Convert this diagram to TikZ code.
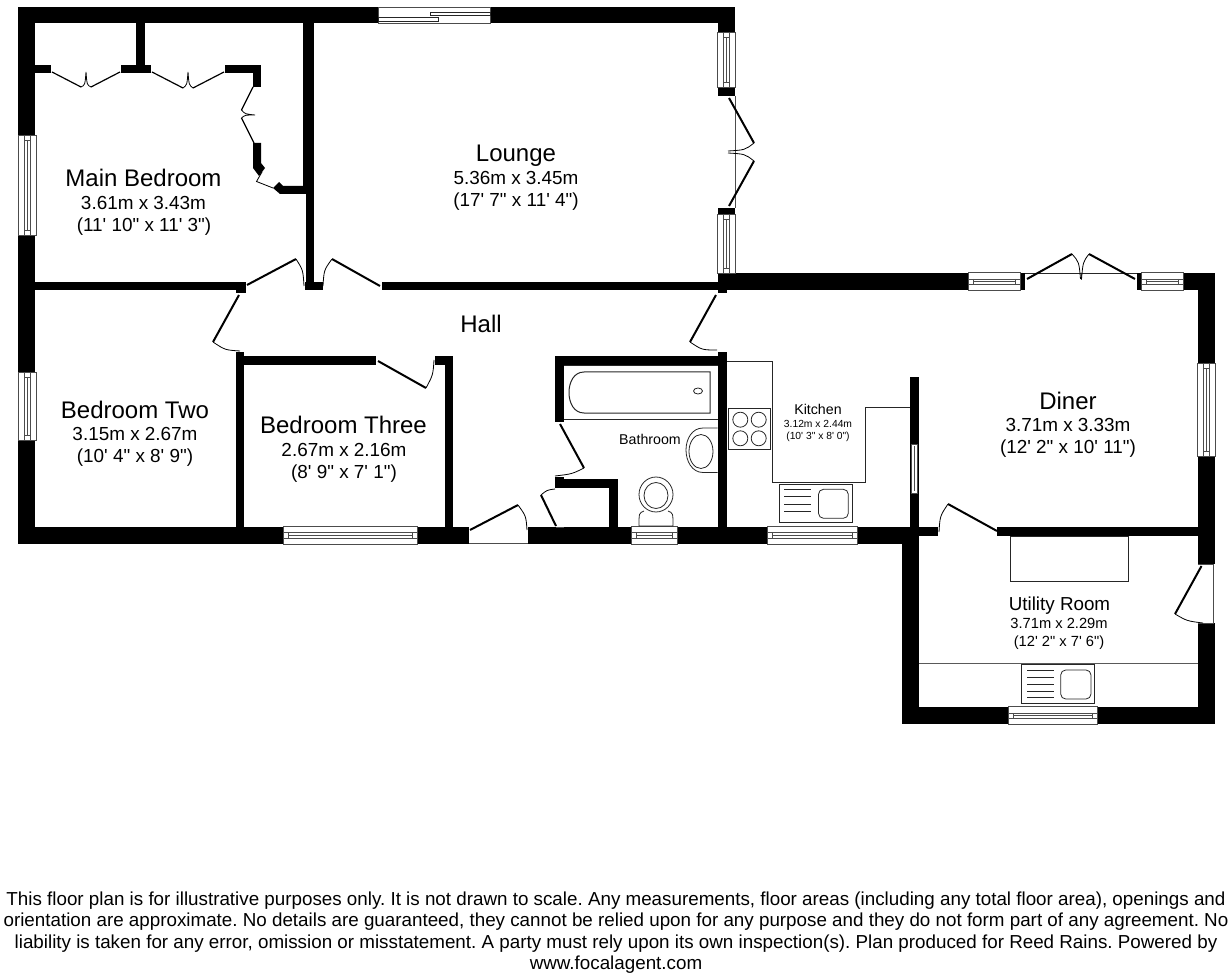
\documentclass[tikz,border=0pt]{standalone}
\usepackage{fontspec}
\newfontfamily\planfont{Liberation Sans}
\frenchspacing
\tikzset{
  wall/.style={fill=black,draw=none},
  winbox/.style={fill=white,draw=black!70,line width=0.8pt},
  winline/.style={draw=black!70,line width=0.8pt},
  leaf/.style={draw=black,line width=2pt},
  swing/.style={draw=black,line width=0.8pt},
  fitting/.style={draw=black!85,line width=1pt},
  bigname/.style={font=\planfont\fontsize{24}{24}\selectfont,anchor=base,inner sep=0pt},
  midname/.style={font=\planfont\fontsize{18.8}{19}\selectfont,anchor=base,inner sep=0pt},
  dimtext/.style={font=\planfont\fontsize{18.9}{19}\selectfont,anchor=base,inner sep=0pt},
  smallname/.style={font=\planfont\fontsize{14.2}{14}\selectfont,anchor=base,inner sep=0pt},
  midtext/.style={font=\planfont\fontsize{14.7}{15}\selectfont,anchor=base,inner sep=0pt},
  tinytext/.style={font=\planfont\fontsize{10.3}{10}\selectfont,anchor=base,inner sep=0pt},
  foot/.style={font=\planfont\fontsize{18.8}{19}\selectfont,anchor=base,inner sep=0pt},
}
\newcommand{\hwin}[3]{% x1 x2 ytop
  \draw[winbox] (#1,#3) rectangle (#2,#3+18);
  \draw[winline] (#1,#3+6.5) -- (#2,#3+6.5) (#1,#3+12) -- (#2,#3+12)
     (#1+5,#3+9) -- (#2-5,#3+9) (#1+5,#3+6.5) -- (#1+5,#3+12) (#2-5,#3+6.5) -- (#2-5,#3+12);}
\newcommand{\vwin}[3]{% xleft y1 y2
  \draw[winbox] (#1,#2) rectangle (#1+18,#3);
  \draw[winline] (#1+6,#2) -- (#1+6,#3) (#1+12,#2) -- (#1+12,#3)
     (#1+9,#2+5) -- (#1+9,#3-5) (#1+6,#2+5) -- (#1+12,#2+5) (#1+6,#3-5) -- (#1+12,#3-5);}
\begin{document}
\begin{tikzpicture}[x=1pt,y=-1pt]
\useasboundingbox (0,0) rectangle (1232,976);
% --- outer walls
\fill[wall] (18,7) rectangle (735,23);
\fill[wall] (18,7) rectangle (35,544);
\fill[wall] (18,527) rectangle (469,544);
\fill[wall] (528,527) rectangle (903,544);
\fill[wall] (718,7) rectangle (735,32);
\fill[wall] (718,87) rectangle (735,96);
\fill[wall] (718,208) rectangle (735,214);
\fill[wall] (718,273) rectangle (1025,290);
\fill[wall] (1137,273) rectangle (1214.5,290);
\fill[wall] (1198,273) rectangle (1214.5,564);
\fill[wall] (1198,623) rectangle (1214.5,724);
\fill[wall] (902,707) rectangle (1214.5,724);
\fill[wall] (902,527) rectangle (919,724);
% --- inner walls
\fill[wall] (303,23) rectangle (314,187);
\fill[wall] (306,186) rectangle (314,290);
\fill[wall] (305,282) rectangle (323,290);
\fill[wall] (35,282) rectangle (246,290);
\fill[wall] (236,282) rectangle (246,293);
\fill[wall] (382,282) rectangle (718,290);
\fill[wall] (718,282) rectangle (727,293);
\fill[wall] (136,23) rectangle (145,65);
\fill[wall] (35,65) rectangle (51,73);
\fill[wall] (121,65) rectangle (151,73);
\fill[wall] (225,65) rectangle (261,73);
\fill[wall] (253,65) rectangle (261,87);
\fill[wall] (253,143) -- (261,143) -- (261,163) -- (265,168) -- (259,176) -- (253,168) -- cycle;
\fill[wall] (273,188) -- (279,182) -- (283,186) -- (306,186) -- (306,194) -- (280,194) -- cycle;
\fill[wall] (236,352) rectangle (244,527);
\fill[wall] (236,356) rectangle (376,365);
\fill[wall] (435,356) rectangle (453,365);
\fill[wall] (445,356) rectangle (453,527);
\fill[wall] (555,356) rectangle (718,365);
\fill[wall] (555,356) rectangle (564,422);
\fill[wall] (555,477) rectangle (564,488);
\fill[wall] (555,479) rectangle (618,488);
\fill[wall] (609,479) rectangle (618,527);
\fill[wall] (718,352) rectangle (727,527);
\fill[wall] (910,377) rectangle (919,527);
\fill[wall] (902,527) rectangle (938,536);
\fill[wall] (997,527) rectangle (1198,536);
% --- windows
\vwin{18}{135}{235}
\vwin{18}{372}{440}
\vwin{717.5}{32}{87}
\vwin{717.5}{214}{273}
\vwin{1197}{363}{456}
\hwin{283}{417}{526}
\hwin{631}{677}{526}
\hwin{767}{857}{526}
\hwin{968}{1020}{272.5}
\hwin{1141}{1183}{272.5}
\hwin{1008}{1097}{706.5}
% thin window in the kitchen partition
\draw[winbox] (911.5,444) rectangle (917.5,493);
\draw[winline] (914.5,446) -- (914.5,491);
% sliding door of the lounge
\draw[winbox] (378,7) rectangle (490,23);
\draw[fitting,fill=white] (430,13) rectangle (490,16);
\draw[fitting,fill=white] (378,18) rectangle (438,21.5);
% door thresholds
\draw[winline] (469,543.5) -- (528,543.5);
\draw[winline] (735,96) -- (735,208);
\draw[fitting] (1025,274) -- (1137,274);
\draw[winline] (1198,564) -- (1213.5,564) -- (1213.5,623) -- (1198,623);
\draw[winline] (556,527) -- (564,527);
\draw[winline] (1081,274) -- (1081,280);
% --- door leaves
\draw[leaf] (247,285) -- (296,259);
\draw[swing] (296,259) .. controls (303,270) .. (304,286);
\draw[leaf] (380,286) -- (332,259);
\draw[swing] (332,259) .. controls (324,270) .. (323,286);
\draw[leaf] (239,295) -- (213,342);
\draw[swing] (213,342) .. controls (225,350) .. (240,351);
\draw[leaf] (378,361) -- (426,388);
\draw[swing] (426,388) .. controls (433,375) .. (434,360);
\draw[leaf] (470,530) -- (518,505);
\draw[swing] (518,505) .. controls (526,516) .. (527,530);
\draw[leaf] (716,295) -- (690,342);
\draw[swing] (690,342) .. controls (702,350) .. (717,350);
\draw[leaf] (560,424) -- (584,468);
\draw[swing] (584,468) .. controls (572,474) .. (555,476);
\draw[leaf] (556,526) -- (541,495);
\draw[swing] (541,495) .. controls (547,490) .. (555,489);
\draw[leaf] (997,531) -- (948,504);
\draw[swing] (948,504) .. controls (940,516) .. (939,532);
\draw[leaf] (1201.5,566) -- (1175,614);
\draw[swing] (1175,614) .. controls (1187,621) .. (1203,623);
% lounge french doors
\draw[leaf] (729,98) -- (754,143);
\draw[leaf] (729,206) -- (754,161);
\draw[swing] (754,143) .. controls (745,150) .. (728,151);
\draw[swing] (754,161) .. controls (745,154) .. (728,153);
% diner french doors
\draw[leaf] (1027,279) -- (1072,254);
\draw[leaf] (1135,279) -- (1089,254);
\draw[swing] (1072,254) .. controls (1079,262) .. (1080.5,279);
\draw[swing] (1089,254) .. controls (1083,262) .. (1081.5,279);
% wardrobe folding doors
\draw[line width=1.2pt] (52,72) -- (81,87);
\draw[swing] (81,87) .. controls (85,85) .. (86,72) .. controls (87,85) .. (91,87);
\draw[line width=1.2pt] (91,87) -- (120,72);
\draw[line width=1.2pt] (152,72) -- (183,88);
\draw[swing] (183,88) .. controls (187,85) .. (188,72) .. controls (189,85) .. (193,88);
\draw[line width=1.2pt] (193,88) -- (224,72);
\draw[line width=1.2pt] (253,87) -- (241.5,110);
\draw[swing] (241.5,110) .. controls (245,114) .. (255,115) .. controls (245,115) .. (241.5,118);
\draw[line width=1.2pt] (241.5,118) -- (254,143);
\draw[swing] (262,172) -- (256.5,181.5) -- (273,188);
% --- bathroom fittings
\draw[fitting] (564,366) -- (718,366) (564,419) -- (718,419);
\draw[fitting] (584,372) -- (710,372) -- (710,413) -- (584,413)
   .. controls (574,413) and (569,403) .. (569,392.5)
   .. controls (569,382) and (574,372) .. (584,372) -- cycle;
\draw[fitting,line width=0.8pt] (698,391) ellipse [x radius=4.5,y radius=3];
\draw[fitting,line width=0.8pt] (717.5,428) -- (703,428) .. controls (692,428) and (686,439) .. (686,450)
   .. controls (686,461) and (692,472.5) .. (703,472.5) -- (717.5,472.5);
\draw[fitting,line width=0.8pt] (701,451.5) ellipse [x radius=12,y radius=17];
\draw[fitting,line width=0.8pt] (656,494.5) ellipse [x radius=17,y radius=17.5];
\draw[fitting,line width=0.8pt] (656,495.5) ellipse [x radius=12,y radius=13];
\draw[fitting,line width=0.8pt] (644,511) .. controls (639,513) .. (639,526) -- (673,526) .. controls (673,513) .. (668,511);
% --- kitchen fittings
\draw[fitting] (727,362) -- (772,362) -- (772,482) -- (865,482) -- (865,407.5) -- (910,407.5);
\draw[fitting] (728,408) rectangle (770,449.5);
\foreach \cx/\cy in {740.3/419.7,758.7/419.7,740.3/438.3,758.7/438.3}
  \draw[fitting,line width=0.8pt] (\cx,\cy) circle (7.5);
\draw[fitting] (779.5,484) rectangle (852.5,522.5);
\foreach \ly in {489.5,496.5,504,511.5}
  \draw[fitting] (784,\ly) -- (811,\ly);
\draw[fitting,line width=0.8pt,rounded corners=5pt] (818.5,489.3) rectangle (848.3,518.3);
% --- utility fittings
\draw[fitting] (1010,536) rectangle (1128,581);
\draw[fitting,draw=black!65] (919,663) -- (1198,663);
\draw[fitting] (1021.5,664.5) rectangle (1094.5,703);
\foreach \ly in {670,677,684,691,697.5}
  \draw[fitting] (1027,\ly) -- (1054,\ly);
\draw[fitting,line width=0.8pt,rounded corners=5pt] (1060.7,670) rectangle (1091,699);
% --- room labels
\node[bigname] (mainbed) at (143.5,187) {Main Bedroom};
\node[dimtext] (mainbedm) at (143.5,210) {3.61m x 3.43m};
\node[dimtext] (mainbedf) at (144,232) {(11' 10" x 11' 3")};
\node[bigname] (lounge) at (516,162) {Lounge};
\node[dimtext] (loungem) at (516,184.5) {5.36m x 3.45m};
\node[dimtext] (loungef) at (516,206.5) {(17' 7" x 11' 4")};
\node[bigname] (bedtwo) at (135,418) {Bedroom Two};
\node[dimtext] (bedtwom) at (135,440) {3.15m x 2.67m};
\node[dimtext] (bedtwof) at (135,462) {(10' 4" x 8' 9")};
\node[bigname] (bedthree) at (343.5,433.5) {Bedroom Three};
\node[dimtext] (bedthreem) at (344,456.5) {2.67m x 2.16m};
\node[dimtext] (bedthreef) at (344,478.5) {(8' 9" x 7' 1")};
\node[bigname] (hall) at (481,333) {Hall};
\node[bigname] (diner) at (1068,409) {Diner};
\node[dimtext] (dinerm) at (1068,431.5) {3.71m x 3.33m};
\node[dimtext] (dinerf) at (1068,453.5) {(12' 2" x 10' 11")};
\node[smallname] (bathroom) at (650,444) {Bathroom};
\node[smallname] (kitchen) at (818,414) {Kitchen};
\node[tinytext] (kitchenm) at (818,427) {3.12m x 2.44m};
\node[tinytext] (kitchenf) at (818,439) {(10' 3" x 8' 0")};
\node[midname] (utility) at (1059.5,610) {Utility Room};
\node[midtext] (utilitym) at (1059,628) {3.71m x 2.29m};
\node[midtext] (utilityf) at (1059,646) {(12' 2" x 7' 6")};
% --- footer
\node[foot] (foota) at (616,905) {This floor plan is for illustrative purposes only. It is not drawn to scale. Any measurements, floor areas (including any total floor area), openings and};
\node[foot] (footb) at (616,926) {orientation are approximate. No details are guaranteed, they cannot be relied upon for any purpose and they do not form part of any agreement. No};
\node[foot] (footc) at (616,948) {liability is taken for any error, omission or misstatement. A party must rely upon its own inspection(s). Plan produced for Reed Rains. Powered by};
\node[foot] (footd) at (616,969) {www.focalagent.com};
\end{tikzpicture}
\end{document}
